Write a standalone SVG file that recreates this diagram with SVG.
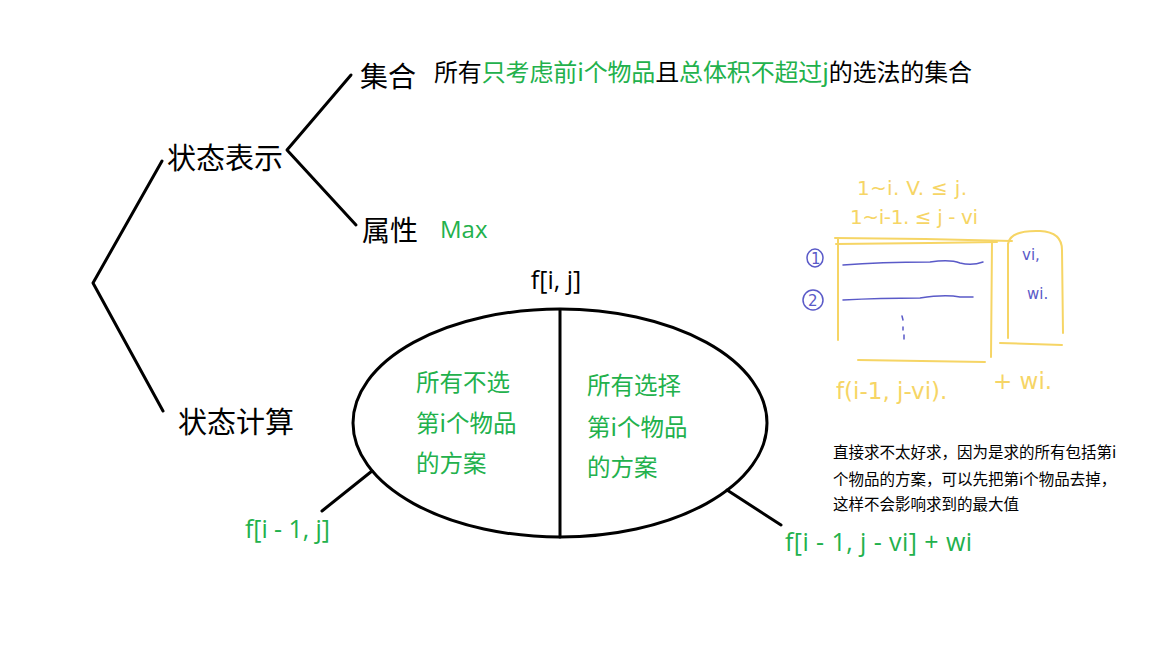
<svg xmlns="http://www.w3.org/2000/svg" width="1152" height="648" viewBox="0 0 1152 648">
  <style>
    .cjk { font-family: "Noto Sans CJK SC", "Microsoft YaHei", sans-serif; }
    .lat { font-family: "Open Sans", "Noto Sans", sans-serif; }
    .blk { fill: #000; }
    .grn { fill: #22b14c; }
    .big { font-size: 29px; }
    .mid { font-size: 25px; }
    .ln { stroke: #000; stroke-width: 3; fill: none; stroke-linecap: round; stroke-linejoin: round; }
    .yl { stroke: #f6d565; stroke-width: 2; fill: none; stroke-linecap: round; stroke-linejoin: round; }
    .bl { stroke: #5a5ac8; stroke-width: 1.5; fill: none; stroke-linecap: round; }
    .hy { font-family: "DejaVu Sans", sans-serif; font-size: 20px; fill: #f6d565; }
    .hy-lg { font-size: 23px; }
    .hb { font-family: "DejaVu Sans", sans-serif; font-size: 15px; fill: #5a5ac8; }
  </style>
  <rect width="1152" height="648" fill="#fff"/>

  <!-- connectors -->
  <g id="connectors">
    <polyline class="ln" points="162,161 93,283 163,411"/>
    <polyline class="ln" points="351,75 287,150 356,225"/>
    <line class="ln" x1="372" y1="471" x2="322" y2="511"/>
    <line class="ln" x1="727" y1="490" x2="781" y2="525"/>
  </g>

  <g id="node-state-repr">
    <text class="cjk blk big" x="167" y="169">状态表示</text>
  </g>
  <g id="node-set">
    <text class="cjk blk" font-size="28" x="360" y="87">集合</text>
    <text class="cjk blk" font-size="24" x="434" y="81" textLength="538" lengthAdjust="spacing">所有<tspan class="grn">只考虑前i个物品</tspan>且<tspan class="grn">总体积不超过j</tspan>的选法的集合</text>
  </g>
  <g id="node-attr">
    <text class="cjk blk" font-size="28" x="362" y="241">属性</text>
    <text class="lat grn" font-size="24" x="440" y="238">Max</text>
  </g>
  <g id="node-state-calc">
    <text class="cjk blk big" x="178" y="433">状态计算</text>
  </g>

  <g id="node-fij">
    <text class="lat blk mid" x="556" y="289" text-anchor="middle">f[i, j]</text>
    <ellipse class="ln" cx="560" cy="423" rx="207" ry="114"/>
    <line class="ln" x1="560" y1="310" x2="560" y2="537"/>
    <text class="cjk grn" font-size="23.5" x="416" y="391">所有不选</text>
    <text class="cjk grn" font-size="23.5" x="416" y="432">第i个物品</text>
    <text class="cjk grn" font-size="23.5" x="416" y="472">的方案</text>
    <text class="cjk grn" font-size="23.5" x="587" y="394">所有选择</text>
    <text class="cjk grn" font-size="23.5" x="587" y="436">第i个物品</text>
    <text class="cjk grn" font-size="23.5" x="587" y="476">的方案</text>
  </g>

  <g id="node-left-result">
    <text class="lat grn mid" x="245" y="538" textLength="85" lengthAdjust="spacing">f[i - 1, j]</text>
  </g>
  <g id="node-right-result">
    <text class="lat grn mid" x="785" y="551" textLength="187" lengthAdjust="spacing">f[i - 1, j - vi] + wi</text>
  </g>

  <g id="note">
    <text class="cjk blk" font-size="15.5" x="833" y="458">直接求不太好求，因为是求的所有包括第i</text>
    <text class="cjk blk" font-size="15.5" x="833" y="485">个物品的方案，可以先把第i个物品去掉，</text>
    <text class="cjk blk" font-size="15.5" x="833" y="510">这样不会影响求到的最大值</text>
  </g>

  <!-- hand sketch -->
  <g id="sketch">
    <text class="hy" x="857" y="195" textLength="110" lengthAdjust="spacing">1~i. V. ≤ j.</text>
    <text class="hy" x="850" y="224" textLength="128" lengthAdjust="spacing">1~i-1.  ≤ j - vi</text>
    <path class="yl" d="M835,238 L925,239 L1012,241"/>
    <path class="yl" d="M836,244 L930,243 L997,242"/>
    <path class="yl" d="M838,238 L838,340"/>
    <path class="yl" d="M992,241 L991,357"/>
    <path class="yl" d="M858,360 L985,362"/>
    <path class="yl" d="M1008,244 L1008,338"/>
    <path class="yl" d="M1008,244 Q1010,230 1040,231 Q1062,232 1062,250 L1063,333"/>
    <path class="yl" d="M1000,343 L1062,345"/>
    <path class="bl" d="M843,265 Q880,262 930,262 Q950,259 960,263 Q972,266 983,262"/>
    <path class="bl" d="M843,300 Q880,298 920,298 Q945,294 960,297 L973,297"/>
    <path class="bl" d="M902,316 L903,320 M903,327 L903,330 M904,335 L904,339"/>
    <ellipse class="bl" cx="815" cy="258" rx="8" ry="9"/>
    <text class="hb" x="811" y="264">1</text>
    <ellipse class="bl" cx="813" cy="300" rx="10" ry="10"/>
    <text class="hb" x="808" y="306">2</text>
    <text class="hb" x="1022" y="260">vi,</text>
    <text class="hb" x="1027" y="299">wi.</text>
    <text class="hy hy-lg" x="836" y="399">f(i-1, j-vi).</text>
    <text class="hy hy-lg" x="993" y="389">+ wi.</text>
  </g>
</svg>
